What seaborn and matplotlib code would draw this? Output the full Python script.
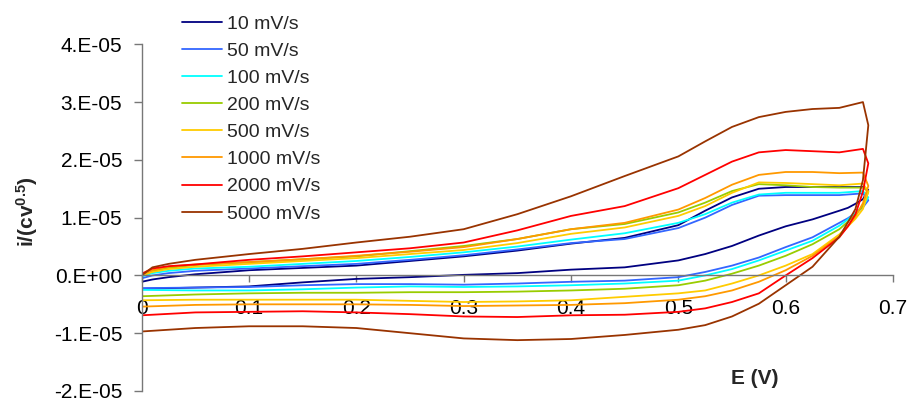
import numpy as np
import pandas as pd
import matplotlib
matplotlib.use("Agg")
import matplotlib.pyplot as plt
from matplotlib.ticker import FuncFormatter
import seaborn as sns

# Scan rates (legend labels) and trace colours
rates = ["10 mV/s", "50 mV/s", "100 mV/s", "200 mV/s",
         "500 mV/s", "1000 mV/s", "2000 mV/s", "5000 mV/s"]
colors = ["#000080", "#3366FF", "#00FFFF", "#99CC00",
          "#FFCC00", "#FF9900", "#FF0000", "#993300"]

# Potential grids (V) for the anodic (forward) and cathodic (reverse) sweeps
E_fwd = [0.0, 0.01, 0.025, 0.05, 0.1, 0.15, 0.2, 0.25, 0.3, 0.35, 0.4,
         0.45, 0.5, 0.525, 0.55, 0.575, 0.6, 0.625, 0.65, 0.672]
E_rev = [0.677, 0.672, 0.665, 0.658, 0.65, 0.625, 0.6, 0.575, 0.55, 0.525,
         0.5, 0.45, 0.4, 0.35, 0.3, 0.25, 0.2, 0.15, 0.1, 0.05, 0.0]

# Normalised current i/(c v^0.5) in units of 1e-5, forward sweep
fwd_10 = [-0.11, -0.07, -0.03, 0.02, 0.09, 0.13, 0.17, 0.25, 0.33, 0.43, 0.55,
          0.65, 0.87, 1.12, 1.35, 1.50, 1.53, 1.53, 1.53, 1.53]
fwd_50 = [-0.05, 0.0, 0.04, 0.08, 0.12, 0.16, 0.20, 0.27, 0.35, 0.45, 0.56,
          0.63, 0.82, 1.00, 1.22, 1.38, 1.39, 1.39, 1.39, 1.42]
fwd_100 = [-0.02, 0.04, 0.08, 0.12, 0.15, 0.20, 0.25, 0.32, 0.40, 0.50, 0.62,
           0.73, 0.91, 1.06, 1.26, 1.40, 1.43, 1.43, 1.43, 1.46]
fwd_200 = [0.0, 0.07, 0.13, 0.18, 0.23, 0.28, 0.33, 0.42, 0.51, 0.63, 0.80,
           0.89, 1.09, 1.26, 1.46, 1.58, 1.56, 1.53, 1.52, 1.52]
fwd_500 = [0.0, 0.06, 0.11, 0.15, 0.20, 0.25, 0.30, 0.37, 0.44, 0.56, 0.72,
           0.83, 1.03, 1.20, 1.43, 1.61, 1.60, 1.58, 1.56, 1.59]
fwd_1000 = [0.02, 0.09, 0.15, 0.19, 0.23, 0.28, 0.34, 0.41, 0.49, 0.63, 0.80,
            0.91, 1.14, 1.34, 1.57, 1.74, 1.79, 1.79, 1.77, 1.78]
fwd_2000 = [0.03, 0.12, 0.16, 0.19, 0.27, 0.33, 0.40, 0.47, 0.57, 0.78, 1.03,
            1.20, 1.51, 1.74, 1.97, 2.13, 2.17, 2.15, 2.13, 2.19]
fwd_5000 = [0.0, 0.14, 0.20, 0.27, 0.37, 0.46, 0.57, 0.67, 0.80, 1.06, 1.37,
            1.72, 2.06, 2.32, 2.57, 2.74, 2.83, 2.88, 2.90, 3.00]

# Reverse sweep, same units
rev_10 = [1.48, 1.32, 1.24, 1.17, 1.12, 0.97, 0.85, 0.69, 0.51, 0.37,
          0.26, 0.14, 0.10, 0.04, 0.01, -0.03, -0.06, -0.12, -0.19, -0.21, -0.23]
rev_50 = [1.30, 1.18, 1.08, 0.99, 0.91, 0.66, 0.49, 0.31, 0.17, 0.06,
          -0.03, -0.09, -0.11, -0.14, -0.16, -0.15, -0.15, -0.17, -0.20, -0.21, -0.22]
rev_100 = [1.35, 1.20, 1.08, 0.97, 0.86, 0.60, 0.43, 0.26, 0.11, 0.0,
           -0.09, -0.14, -0.17, -0.19, -0.20, -0.19, -0.21, -0.24, -0.26, -0.26, -0.25]
rev_200 = [1.45, 1.20, 1.05, 0.93, 0.80, 0.54, 0.34, 0.17, 0.03, -0.09,
           -0.17, -0.23, -0.26, -0.28, -0.29, -0.29, -0.30, -0.30, -0.31, -0.33, -0.36]
rev_500 = [1.45, 1.15, 0.98, 0.85, 0.71, 0.37, 0.17, 0.0, -0.14, -0.26,
           -0.31, -0.37, -0.43, -0.45, -0.46, -0.44, -0.42, -0.42, -0.42, -0.42, -0.43]
rev_1000 = [1.55, 1.25, 1.02, 0.85, 0.68, 0.34, 0.09, -0.11, -0.26, -0.36,
            -0.42, -0.48, -0.51, -0.52, -0.53, -0.51, -0.50, -0.50, -0.50, -0.51, -0.54]
rev_2000 = [1.94, 1.45, 1.06, 0.85, 0.66, 0.30, 0.0, -0.31, -0.46, -0.57,
            -0.63, -0.68, -0.69, -0.72, -0.71, -0.67, -0.64, -0.62, -0.63, -0.64, -0.69]
rev_5000 = [2.60, 1.65, 1.15, 0.92, 0.67, 0.15, -0.17, -0.49, -0.71, -0.86,
            -0.94, -1.03, -1.10, -1.12, -1.09, -1.00, -0.91, -0.88, -0.88, -0.91, -0.97]

forward = [fwd_10, fwd_50, fwd_100, fwd_200, fwd_500, fwd_1000, fwd_2000, fwd_5000]
reverse = [rev_10, rev_50, rev_100, rev_200, rev_500, rev_1000, rev_2000, rev_5000]

# One long table: each scan rate is a loop traced in sweep order
frames = []
for rate, f, r in zip(rates, forward, reverse):
    E = list(E_fwd) + list(E_rev)
    cur = np.array(list(f) + list(r)) * 1e-5
    frames.append(pd.DataFrame({"E": E, "I": cur, "rate": rate,
                                "step": np.arange(len(E))}))
df = pd.concat(frames, ignore_index=True)

sns.set_style("white")
plt.rcParams["font.family"] = ["Liberation Sans", "DejaVu Sans"]
plt.rcParams["mathtext.fontset"] = "custom"
plt.rcParams["mathtext.rm"] = "Liberation Sans"
plt.rcParams["mathtext.bf"] = "Liberation Sans:bold"

fig = plt.figure(figsize=(9.13, 4.04), dpi=100)
ax = fig.add_axes([141.7 / 913, 1 - 391 / 404, (893 - 141.7) / 913, (391 - 44.3) / 404])

sns.lineplot(data=df, x="E", y="I", hue="rate", hue_order=rates,
             palette=colors, sort=False, estimator=None, units="rate",
             linewidth=1.3, ax=ax)

axis_grey = "#777777"
ax.set_xlim(0, 0.7)
ax.set_ylim(-2e-5, 4e-5)
ax.set_xticks(np.arange(0, 0.71, 0.1))
ax.set_xticklabels(["0", "0.1", "0.2", "0.3", "0.4", "0.5", "0.6", "0.7"])
ax.set_yticks(np.arange(-2, 5) * 1e-5)


def excel_sci(v, pos):
    """Spreadsheet-style scientific label, e.g. 4.E-05 / 0.E+00."""
    if abs(v) < 1e-15:
        return "0.E+00"
    e = int(np.floor(np.log10(abs(v)) + 1e-9))
    m = v / 10 ** e
    return f"{m:.0f}.E{e:+03d}"


ax.yaxis.set_major_formatter(FuncFormatter(excel_sci))

for side in ("top", "right"):
    ax.spines[side].set_visible(False)
ax.spines["bottom"].set_position(("data", 0))
for side in ("left", "bottom"):
    ax.spines[side].set_color(axis_grey)
    ax.spines[side].set_linewidth(1.0)

ax.tick_params(axis="y", direction="out", length=6, width=1, color=axis_grey,
               pad=8, labelsize=15, labelcolor="black", left=True)
ax.tick_params(axis="x", direction="out", length=5, width=1, color=axis_grey,
               pad=12, labelsize=15, labelcolor="black", bottom=True)
ax.set_xlabel("")
ax.set_ylabel("")

fig.text(755 / 913, 1 - 378 / 404, "E (V)", fontsize=15, fontweight="bold",
         ha="center", va="center")
fig.text(27 / 913, 1 - 212 / 404, r"$\mathbf{i/(cv^{0.5})}$", fontsize=15,
         rotation=90, ha="center", va="center")

handles, labels = ax.get_legend_handles_labels()
ax.legend(handles, labels, loc="upper left",
          bbox_to_anchor=(182 / 913, 1 - 15 / 404), bbox_transform=fig.transFigure,
          frameon=False, fontsize=14, handlelength=2.05, handletextpad=0.25,
          labelspacing=0.49, borderpad=0, borderaxespad=0)

fig.savefig("out.png", dpi=100)
